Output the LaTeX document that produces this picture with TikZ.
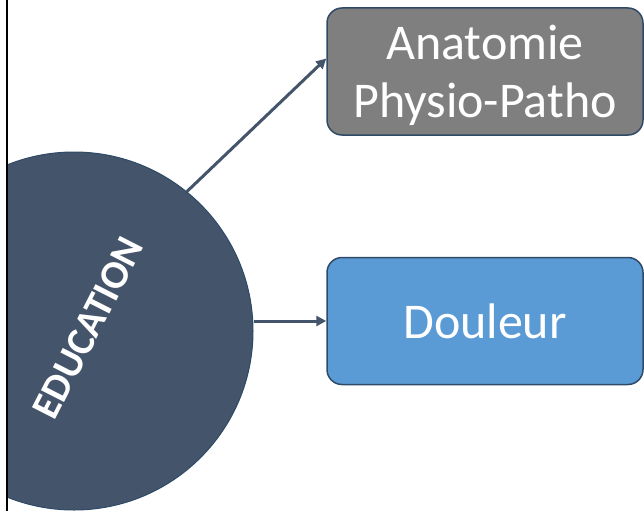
\documentclass[tikz,border=0pt]{standalone}
\usepackage{fontspec}
\setmainfont{Carlito}
\usetikzlibrary{arrows.meta,positioning}
\definecolor{eduBlue}{HTML}{44546A}
\definecolor{boxLine}{HTML}{2F4A66}
\definecolor{anatGray}{HTML}{7F7F7F}
\definecolor{painBlue}{HTML}{5B9BD5}

\begin{document}
\begin{tikzpicture}[x=1pt,y=-1pt]
  \tikzstyle{every node}+=[inner sep=0pt]
  \tikzstyle{topic}=[draw=boxLine, line width=1.5pt, rounded corners=15pt, minimum width=316pt, minimum height=127pt, text=white, align=center, font=\fontsize{50}{58}\selectfont]
  \tikzstyle{link}=[draw=eduBlue, line width=3pt, -{Triangle[length=10pt,width=10pt]}]
  \useasboundingbox (0,0) rectangle (644,511);
  \begin{scope}
    \clip (8,0) rectangle (644,511);
    \node [circle, fill=eduBlue, draw=boxLine, line width=1pt, minimum size=358pt] (edu) at (74,331) {};
  \end{scope}
  \node [rotate=63, text=white, font=\bfseries\fontsize{40}{40}\selectfont] (eduText) at (88,328) {EDUCATION};
  \draw [black, line width=2pt] (7,0) -- (7,511);
  \node [topic, fill=anatGray, text depth=0pt] (anat) at (485,71.5) {Anatomie\\Physio-Patho};
  \node [topic, fill=painBlue] (pain) at (485,321) {Douleur};
  \draw [link] (edu.51) -- ([yshift=13pt]anat.west);
  \draw [link] (edu.east |- pain.west) -- (pain.west);
\end{tikzpicture}
\end{document}
